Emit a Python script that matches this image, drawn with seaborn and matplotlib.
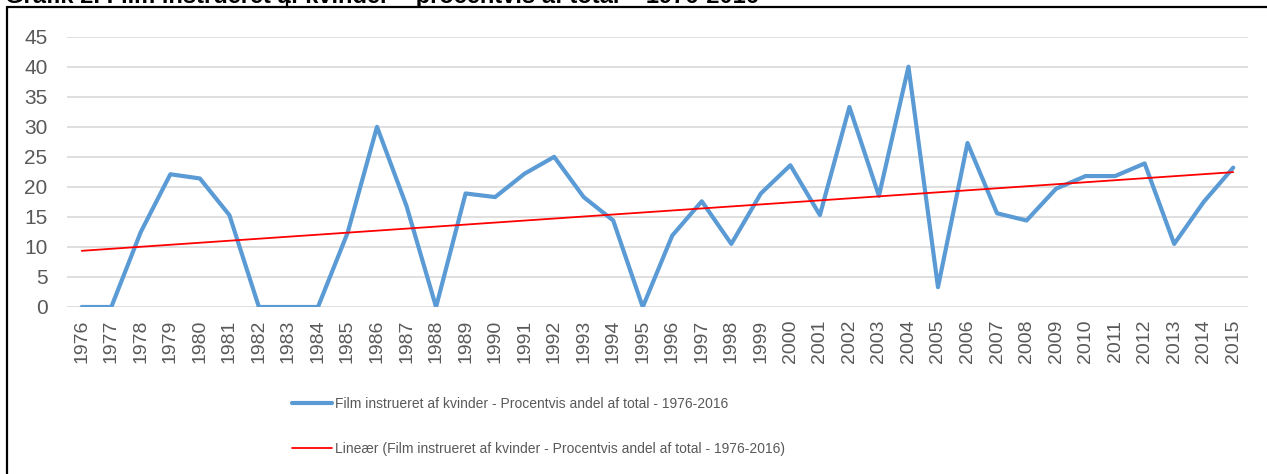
import matplotlib
matplotlib.use("Agg")
import matplotlib.pyplot as plt
from matplotlib.lines import Line2D
import seaborn as sns

# data
years = list(range(1976, 2016))
pct_women = [0, 0, 12.5, 22.1, 21.4, 15.3, 0, 0, 0, 12.3,
             30.0, 16.8, 0, 18.9, 18.3, 22.2, 25.0, 18.3, 14.4, 0,
             11.9, 17.6, 10.5, 18.9, 23.6, 15.3, 33.3, 18.5, 40.0, 3.3,
             27.3, 15.6, 14.4, 19.7, 21.8, 21.8, 23.9, 10.5, 17.5, 23.2]
y_ticks = list(range(0, 50, 5))

series_label = "Film instrueret af kvinder - Procentvis andel af total - 1976-2016"
trend_label = "Lineær (Film instrueret af kvinder - Procentvis andel af total - 1976-2016)"
title = "Grafik 2. Film instrueret af kvinder \u2013 procentvis af total \u2013 1976-2016"

sns.set_theme(style="white")
plt.rcParams["font.family"] = ["Liberation Sans", "DejaVu Sans"]

W, H = 1267, 474
fig = plt.figure(figsize=(W / 100, H / 100), dpi=100)
ax = fig.add_axes([67 / W, 1 - 307 / H, (1248 - 67) / W, (307 - 36.7) / H])

sns.lineplot(x=years, y=pct_women, ax=ax, color="#5B9BD5", linewidth=3.0,
             solid_capstyle="round", solid_joinstyle="round", label=series_label)
sns.regplot(x=years, y=pct_women, ax=ax, scatter=False, ci=None, color="red",
            line_kws=dict(linewidth=1.3), label=trend_label)

ax.set_xlim(years[0] - 0.5, years[-1] + 0.5)
ax.set_ylim(0, 45)
ax.set_xticks(years)
ax.set_xticklabels([str(y) for y in years], rotation=90)
ax.set_yticks(y_ticks)
ax.set_xlabel("")
ax.set_ylabel("")
ax.grid(axis="y", color="#D9D9D9", linewidth=1.2)
ax.set_axisbelow(True)
for s in ax.spines.values():
    s.set_visible(False)
ax.tick_params(axis="x", length=0, pad=9, labelsize=14, labelcolor="#595959")
ax.tick_params(axis="y", length=0, pad=14, labelsize=15, labelcolor="#595959")

leg = ax.legend(loc="upper left", bbox_to_anchor=(292 / W, 1 - 397 / H),
                bbox_transform=fig.transFigure, frameon=False, fontsize=10,
                handlelength=2.9, handletextpad=0.2, labelspacing=2.2,
                borderaxespad=0, borderpad=0)
for t in leg.get_texts():
    t.set_color("#595959")

# chart frame and clipped title at the top
fig.add_artist(Line2D([7 / W, 7 / W], [0, 1 - 7 / H], color="black", linewidth=1.6))
fig.add_artist(Line2D([7 / W, 1], [1 - 7 / H, 1 - 7 / H], color="black", linewidth=1.6))
fig.add_artist(Line2D([287 / W, 287 / W], [1 - 7 / H, 1], color="black", linewidth=1.6))
fig.text(5 / W, 1 - 3 / H, title, fontsize=17, fontweight="bold", color="black", va="baseline")

fig.savefig("out.png", dpi=100)
